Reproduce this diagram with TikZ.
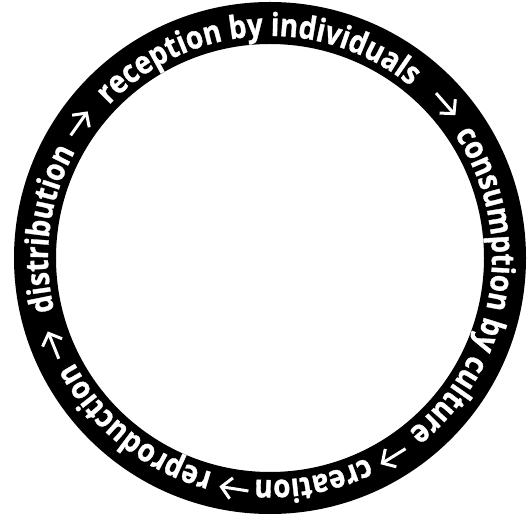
\documentclass[tikz,border=0pt]{standalone}
\usepackage{fontspec}
\setmainfont{Open Sans}
\newfontfamily\cycringfont[FakeStretch=0.87, FakeBold=1]{Open Sans Bold}
\usetikzlibrary{arrows.meta,decorations.text}
\definecolor{cycInk}{HTML}{000000}
\definecolor{cycPaper}{HTML}{FFFFFF}
\newcommand{\cycfont}{\cycringfont\fontsize{32}{34}\selectfont}
\tikzset{
  cyc ring/.style={fill=cycInk, even odd rule},
  cyc label/.style={decorate, decoration={text along path, text align=center,
      text color=cycPaper, text={|\cycfont|#1}}},
  cyc arrow/.style={draw=cycPaper, line width=3bp,
      -{Straight Barb[length=10bp, width=21bp, line width=3bp]}},
}

\begin{document}
\begin{tikzpicture}[x=1bp, y=1bp]
  \useasboundingbox (-270,-271) rectangle (260,258);

  % black band
  \fill[cyc ring] (0,0) circle[radius=256] (0,0) circle[radius=214];

  % words, read clockwise round the band
  \path[cyc label={reception by individuals}] (153.6:222) arc[start angle=153.6, end angle=33.6, radius=222];
  \path[cyc label={consumption by culture}] (51.2:222) arc[start angle=51.2, end angle=-68.8, radius=222];
  \path[cyc label={creation}] (-19:222) arc[start angle=-19, end angle=-139, radius=222];
  \path[cyc label={reproduction}] (-68.5:222) arc[start angle=-68.5, end angle=-188.5, radius=222];
  \path[cyc label={distribution}] (232.5:222) arc[start angle=232.5, end angle=112.5, radius=222];

  % arrows between the words, all clockwise
  \foreach \ang [count=\i] in {144.7, 41.1, -58.3, -99, -158.2} {
    \coordinate (arr\i tail) at (\ang+3.7:234);
    \coordinate (arr\i head) at (\ang-3.5:234);
    \draw[cyc arrow] (arr\i tail) -- (arr\i head);
  }
\end{tikzpicture}
\end{document}
